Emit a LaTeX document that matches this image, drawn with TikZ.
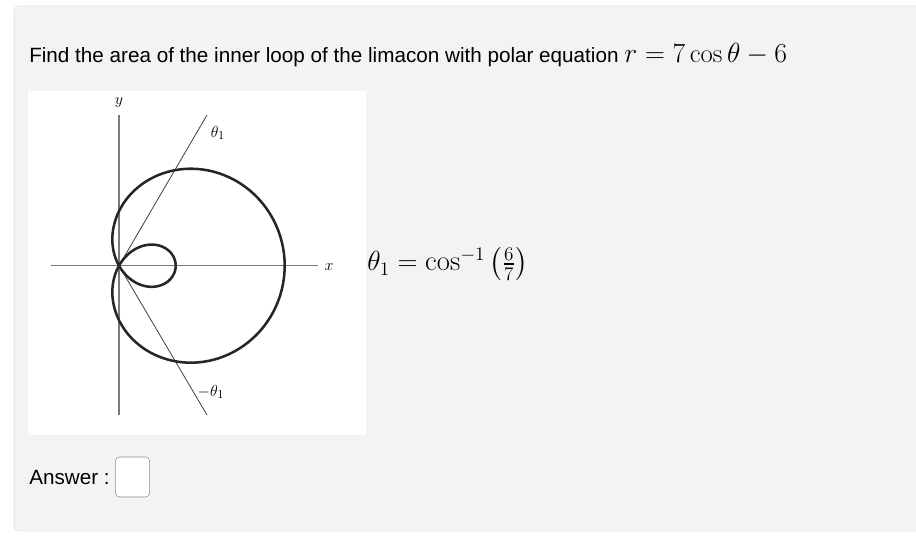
\documentclass[tikz,border=0pt]{standalone}
\usepackage{amsmath}
\usepackage{fontspec}
\newfontfamily\arialfont{Liberation Sans}
\usetikzlibrary{positioning}
\definecolor{panelgray}{HTML}{F3F3F3}
\definecolor{panelline}{HTML}{E2E2E2}
\definecolor{boxline}{HTML}{8A8A8A}
\definecolor{axisgray}{HTML}{7A7A7A}

\tikzset{
  axisline/.style={axisgray, line width=0.8pt},
  tanline/.style={black!75, line width=0.6pt},
  curveline/.style={black!85, line width=1.9pt},
  qtext/.style={font=\arialfont\fontsize{15.5}{18}\selectfont, inner sep=0pt, anchor=west},
  axislbl/.style={font=\fontsize{13}{15}\selectfont, inner sep=1pt},
}

\begin{document}
\begin{tikzpicture}[x=0.75pt,y=-0.75pt]
  \useasboundingbox (0,0) rectangle (916,546);
  % panel
  \draw[panelline, fill=panelgray, rounded corners=3pt] (14,6) rectangle (930,531);
  % question
  \node[qtext] (question) at (29,55) {Find the area of the inner loop of the limacon with polar equation {\fontsize{20}{22}\selectfont$r=7\cos\theta-6$}};

  % graph area
  \fill[white] (28,91) rectangle (366,435);
  \coordinate (O) at (119,265.7);
  \coordinate (ytop) at (119,115);
  \coordinate (ybot) at (119,415);
  \coordinate (xleft) at (51,265.7);
  \coordinate (xright) at (318,265.7);
  \draw[axisline] (ybot) -- (ytop);
  \draw[axisline] (xleft) -- (xright);
  \node[axislbl] (ylbl) at (119,103) {$y$};
  \node[axislbl] (xlbl) at (329,267) {$x$};

  % tangent lines at the pole
  \coordinate (tup) at (207,115);
  \coordinate (tdown) at (207,415);
  \draw[tanline] (O) -- (tup);
  \draw[tanline] (O) -- (tdown);
  \node[axislbl] (th) at (218,133) {$\theta_1$};
  \node[axislbl] (mth) at (211,392) {$-\theta_1$};

  % limacon
  \begin{scope}[shift={(O)}, x=41.7pt, y=41.7pt]
    \draw[curveline, smooth, samples=181, domain=0:360]
      plot ({(2*cos(\x)-0.98)*cos(\x)}, {(2*cos(\x)-0.98)*sin(\x)});
  \end{scope}

  \node[anchor=west, inner sep=0pt, font=\fontsize{21.5}{24}\selectfont] (theta1) at (367,264)
    {$\theta_1=\cos^{-1}\left(\frac{6}{7}\right)$};

  % answer
  \node[qtext] (answer) at (29,477) {Answer :};
  \node[draw=boxline, fill=white, rounded corners=3pt, minimum width=25.5pt,
        minimum height=30pt, right=4pt of answer] (ansbox) {};
\end{tikzpicture}
\end{document}
